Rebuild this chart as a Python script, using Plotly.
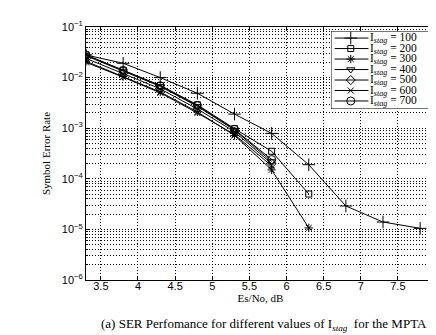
import plotly.graph_objects as go

esno = [3.3, 3.8, 4.3, 4.8, 5.3, 5.8, 6.3, 6.8, 7.3, 7.8]

ser_100 = [0.028, 0.0192, 0.0100, 0.0049, 0.0019, 0.00079, 0.00019, 2.9e-5, 1.4e-5, 1.05e-5]
ser_200 = [0.028, 0.0140, 0.0070, 0.0029, 0.00098, 0.00035, 5.0e-5]
ser_300 = [0.021, 0.0105, 0.0052, 0.0021, 0.00072, 0.00015, 1.07e-5]
ser_400 = [0.027, 0.0135, 0.0067, 0.0027, 0.00092, 0.00022]
ser_500 = [0.024, 0.0120, 0.0060, 0.0024, 0.00085, 0.00020]
ser_600 = [0.020, 0.0102, 0.0050, 0.0020, 0.00075, 0.00018]
ser_700 = [0.028, 0.0138, 0.0069, 0.0028, 0.00095, 0.00024]

names = ["100", "200", "300", "400", "500", "600", "700"]
series = [ser_100, ser_200, ser_300, ser_400, ser_500, ser_600, ser_700]
symbols = ["cross-thin-open", "square-open", "asterisk-open", "triangle-down-open",
           "diamond-open", "x-thin-open", "circle-open"]
sizes = [9, 6, 7, 7, 7, 6, 8]

x_ticks = [3.5, 4, 4.5, 5, 5.5, 6, 6.5, 7, 7.5, 8]
x_tick_labels = ["3.5", "4", "4.5", "5", "5.5", "6", "6.5", "7", "7.5", "8"]
y_ticks = [1e-1, 1e-2, 1e-3, 1e-4, 1e-5, 1e-6]
y_tick_labels = ["10<sup>\u22121</sup>", "10<sup>\u22122</sup>", "10<sup>\u22123</sup>",
                 "10<sup>\u22124</sup>", "10<sup>\u22125</sup>", "10<sup>\u22126</sup>"]
y_minor = [m * 10.0 ** k for k in range(-6, -1) for m in range(2, 10)]

SERIF = "Liberation Serif, Times New Roman, serif"
SANS = "Liberation Sans, Arial, sans-serif"

fig = go.Figure()
for name, ys, sym, sz in zip(names, series, symbols, sizes):
    fig.add_trace(go.Scatter(
        x=esno[:len(ys)], y=ys, mode="lines+markers",
        name="I<sub><i>stag</i></sub> = " + name, showlegend=False,
        line=dict(color="black", width=1),
        marker=dict(symbol=sym, size=sz, color="black",
                    line=dict(color="black", width=1)),
    ))

# legend drawn as a small inset subplot (rows indexed by series order)
LEG_X0, LEG_X1, LEG_XM, LEG_TXT = 0.035, 0.36, 0.19, 0.37
LEG_YR = [6.76, -0.67]
annotations = []
for i, (name, sym, sz) in enumerate(zip(names, symbols, sizes)):
    fig.add_trace(go.Scatter(
        x=[LEG_X0, LEG_X1], y=[i, i], mode="lines", showlegend=False, hoverinfo="skip",
        line=dict(color="black", width=1), xaxis="x2", yaxis="y2",
    ))
    fig.add_trace(go.Scatter(
        x=[LEG_XM], y=[i], mode="markers", showlegend=False, hoverinfo="skip",
        marker=dict(symbol=sym, size=sz, color="black", line=dict(color="black", width=1)),
        xaxis="x2", yaxis="y2",
    ))
    annotations.append(dict(
        text="I<sub><i>stag</i></sub> = " + name, xref="x2", yref="y2",
        x=LEG_TXT, y=i, xanchor="left", yanchor="middle", showarrow=False,
        borderpad=0,
        font=dict(family=SERIF, size=11.5, color="black"),
    ))

annotations.append(dict(
    text="(a) SER Perfomance for different values of I<sub><i>stag</i></sub>  for the MPTA",
    xref="paper", yref="paper", x=0.5, y=0, xshift=3, yshift=-44,
    xanchor="center", yanchor="middle", showarrow=False,
    font=dict(family=SERIF, size=13, color="black"),
))

hidden_axis = dict(visible=True, showgrid=False, showline=False, showticklabels=False,
                   ticks="", zeroline=False, fixedrange=True)

grid_dash = "1px,2px"
fig.update_layout(
    width=436, height=335,
    margin=dict(l=78, r=9, t=19, b=63, autoexpand=False),
    paper_bgcolor="white", plot_bgcolor="white",
    font=dict(family=SANS, size=11, color="black"),
    showlegend=False,
    xaxis=dict(
        range=[3.3, 8], tickvals=x_ticks, ticktext=x_tick_labels,
        showline=True, linecolor="black", linewidth=1, mirror="ticks",
        ticks="inside", ticklen=4, tickcolor="black", ticklabelstandoff=-4,
        showgrid=True, gridcolor="black", gridwidth=1, griddash=grid_dash,
        zeroline=False, automargin=False,
        title=dict(text="Es/No, dB", font=dict(family=SERIF, size=11), standoff=2),
    ),
    yaxis=dict(
        type="log", range=[-6, -1], tickvals=y_ticks, ticktext=y_tick_labels,
        showline=True, linecolor="black", linewidth=1, mirror="ticks",
        ticks="inside", ticklen=4, tickcolor="black",
        showgrid=True, gridcolor="black", gridwidth=1, griddash=grid_dash,
        minor=dict(tickvals=y_minor, showgrid=True, gridcolor="black", gridwidth=1,
                   griddash=grid_dash, ticks="inside", ticklen=2, tickcolor="black"),
        zeroline=False, automargin=False,
        title=dict(text="Symbol Error Rate", font=dict(family=SERIF, size=11), standoff=8),
    ),
    xaxis2=dict(domain=[0.702, 1.0], range=[0, 1], anchor="y2", **hidden_axis),
    yaxis2=dict(domain=[0.676, 0.984], range=LEG_YR, anchor="x2", **hidden_axis),
    shapes=[dict(type="rect", xref="x2", yref="y2", x0=0, x1=1, y0=LEG_YR[0], y1=LEG_YR[1],
                 fillcolor="white", line=dict(color="black", width=1), layer="between")],
    annotations=annotations,
)

fig.write_html("out.html")
